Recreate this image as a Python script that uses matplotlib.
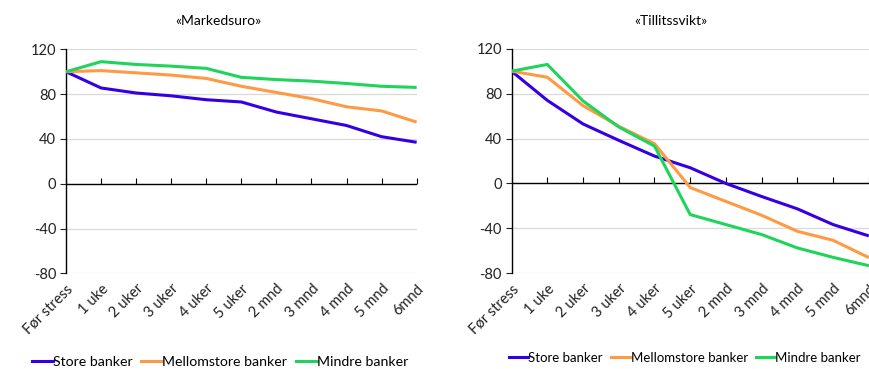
import matplotlib.pyplot as plt
from matplotlib.lines import Line2D
import numpy as np

plt.rcParams['font.family'] = ['Lato', 'DejaVu Sans']
plt.rcParams['axes.unicode_minus'] = False

periods = ["Før stress", "1 uke", "2 uker", "3 uker", "4 uker", "5 uker",
           "2 mnd", "3 mnd", "4 mnd", "5 mnd", "6mnd"]
series_names = ["Store banker", "Mellomstore banker", "Mindre banker"]

# Scenario «Markedsuro»
uro_store = [100, 85.5, 81, 78.5, 75, 73, 64, 58, 52, 42, 37]
uro_mellom = [100, 101, 99, 97, 94, 87, 81.5, 76, 68.7, 65, 55]
uro_mindre = [100, 109, 106.5, 105, 103, 95, 93, 91.6, 89.5, 87, 86]

# Scenario «Tillitssvikt»
svikt_store = [100, 74, 53, 38.4, 24.4, 14, 0, -11.6, -22.6, -36.6, -46.7]
svikt_mellom = [100, 94.6, 69.3, 51, 35.4, -3.6, -16, -28.3, -42.6, -50.6, -66]
svikt_mindre = [100, 106, 73.5, 50.3, 33.3, -27.7, -36.6, -45.5, -57.4, -65.8, -73.2]

colors = ["#3300e6", "#ff9a44", "#1fd45a"]

fig = plt.figure(figsize=(8.7, 3.69), dpi=100)
ax1 = fig.add_axes([0.0759, 0.2593, 0.403, 0.607])
ax2 = fig.add_axes([0.588, 0.2593, 0.4107, 0.6087])

x = np.arange(len(periods))


def style_panel(ax, data):
    for vals, c in zip(data, colors):
        ax.plot(x, vals, color=c, lw=2.2, solid_capstyle='butt', zorder=3)
    ax.set_xlim(0, len(periods) - 1)
    ax.set_ylim(-80, 120)
    ax.set_yticks([-80, -40, 0, 40, 80, 120])
    ax.yaxis.grid(True, color="#d9d9d9", lw=0.9)
    ax.set_axisbelow(True)
    ax.axhline(0, color="black", lw=1.0, zorder=2)
    for s in ["top", "right", "bottom"]:
        ax.spines[s].set_visible(False)
    ax.spines["left"].set_linewidth(1.0)
    ax.tick_params(axis="y", length=4, width=0.8, labelsize=10.5, pad=3,
                   colors="#222222")
    ax.set_xticks(x)
    ax.set_xticklabels(periods, rotation=45, ha="right",
                       rotation_mode="anchor", fontsize=10.5, color="#222222")
    ax.tick_params(axis="x", length=0, pad=6)
    # category tick marks on the zero line
    zero = ax.secondary_xaxis(0.4)
    zero.set_xticks(x)
    zero.set_xticklabels([])
    zero.tick_params(axis="x", direction="in", length=4, width=0.8)
    zero.spines["bottom"].set_visible(False)


style_panel(ax1, [uro_store, uro_mellom, uro_mindre])
style_panel(ax2, [svikt_store, svikt_mellom, svikt_mindre])

fig.text(0.251, 0.943, "«Markedsuro»", ha="center", va="center", fontsize=10)
fig.text(0.771, 0.943, "«Tillitssvikt»", ha="center", va="center", fontsize=10)

handles = [Line2D([], [], color=c, lw=2.2) for c in colors]
leg_kw = dict(ncol=3, frameon=False, handlelength=1.5,
              handletextpad=0.0, columnspacing=0.6)
fig.legend(handles, series_names, loc="center", bbox_to_anchor=(0.253, 0.018),
           fontsize=10.2, **leg_kw)
fig.legend(handles, series_names, loc="center", bbox_to_anchor=(0.787, 0.03),
           fontsize=9.5, **leg_kw)

fig.savefig("out.png", dpi=100)
